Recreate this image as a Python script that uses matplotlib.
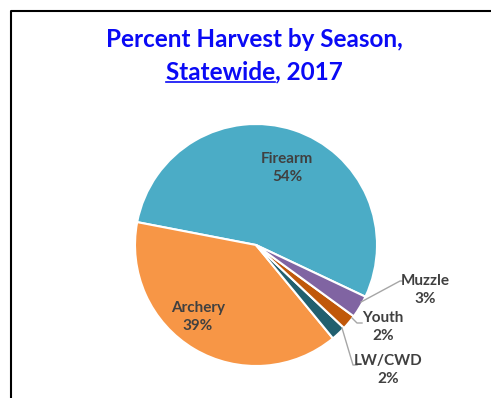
import matplotlib
matplotlib.use("Agg")
import matplotlib.pyplot as plt

# data
seasons = ["Firearm", "Archery", "LW/CWD", "Youth", "Muzzle"]
pct = [54, 39, 2, 2, 3]
colors = ["#4BACC6", "#F79646", "#215F6E", "#C0580A", "#8064A2"]

W, H = 491, 398
plt.rcParams['font.family'] = ['Lato', 'DejaVu Sans']

fig = plt.figure(figsize=(W / 100, H / 100), dpi=100)
ax = fig.add_axes([0, 0, 1, 1])

def py(y):
    # pixel row (from top) -> data y
    return H - y

# pie, centre and radius in pixels
cx, cy, r = 256, 245, 121
wedges, _ = ax.pie(pct, colors=colors, startangle=-25.3, counterclock=True,
                   center=(cx, py(cy)), radius=r, frame=True,
                   wedgeprops=dict(edgecolor='white', linewidth=1.5))
ax.set_xlim(0, W)
ax.set_ylim(0, H)
ax.set_aspect('auto')
ax.axis('off')

lab_color = '#404040'
lab_kw = dict(ha='center', va='center', fontsize=11, fontweight='bold',
              color=lab_color, linespacing=1.4)

# inside labels
ax.text(287, py(168), f"{seasons[0]}\n{pct[0]}%", **lab_kw)
ax.text(198, py(317), f"{seasons[1]}\n{pct[1]}%", **lab_kw)

# outside labels with leader lines
ax.text(425, py(290), f"{seasons[4]}\n{pct[4]}%", **lab_kw)
ax.text(383, py(327), f"{seasons[3]}\n{pct[3]}%", **lab_kw)
ax.text(388, py(370), f"{seasons[2]}\n{pct[2]}%", **lab_kw)

lc = '#A6A6A6'
ax.plot([361, 400, 402], [py(302), py(281), py(281)], color=lc, lw=1)
ax.plot([352, 357, 362], [py(318), py(323), py(323)], color=lc, lw=1)
ax.plot([342, 353, 357], [py(328), py(365), py(365)], color=lc, lw=1)

# frame (top and left only)
ax.plot([11, 11, W], [0, py(11), py(11)], color='black', lw=1.5,
        solid_capstyle='butt')

# title
tcol = '#0A0AF5'
tsize = 17.5
tkw = dict(ha='center', va='baseline', fontsize=tsize, fontweight='bold', color=tcol)
ax.text(254, py(47), "Percent Harvest by Season,", **tkw)
line2 = ax.text(254, py(79), "Statewide, 2017", **tkw)

fig.canvas.draw()
rend = fig.canvas.get_renderer()
bb = line2.get_window_extent(rend)
tmp = ax.text(0, 0, "Statewide", ha='left', va='baseline', fontsize=tsize,
              fontweight='bold')
wb = tmp.get_window_extent(rend)
tmp.remove()
x0 = bb.x0
ax.plot([x0, x0 + wb.width], [py(82), py(82)], color=tcol, lw=1.2)

fig.savefig("out.png", dpi=100)
